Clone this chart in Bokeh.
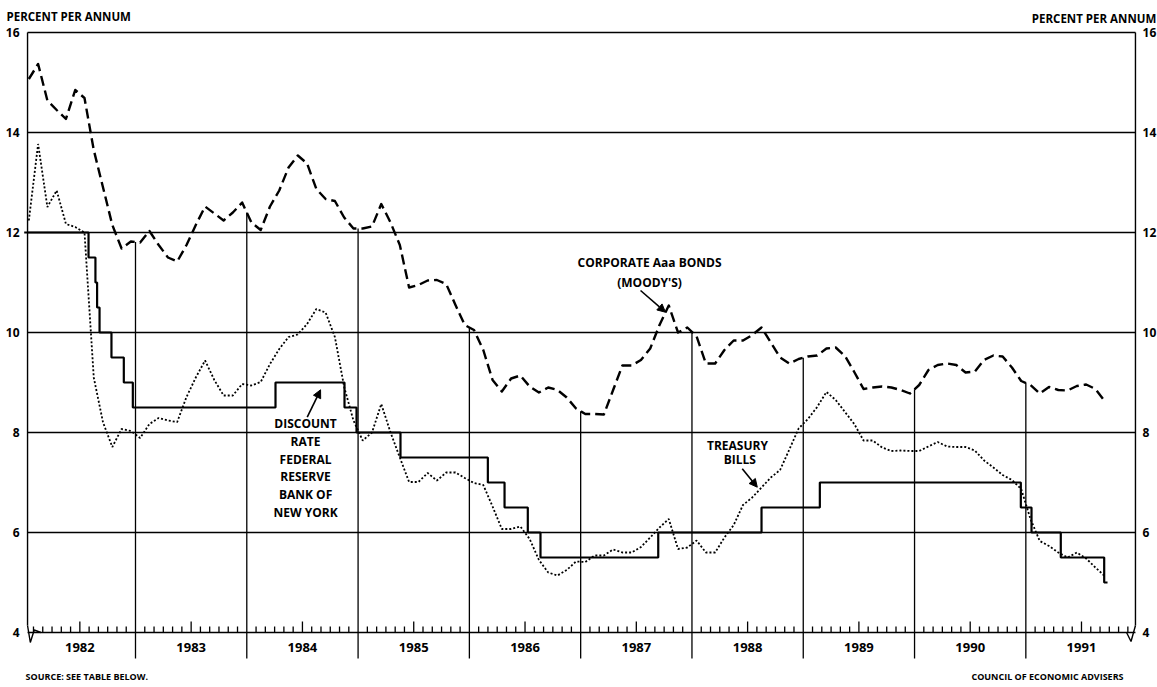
import numpy as np
from bokeh.plotting import figure
from bokeh.models import Range1d, Label, Arrow, NormalHead
from bokeh.core.properties import value
from bokeh.embed import file_html
from bokeh.resources import INLINE

# ---------------- data ----------------
FIRST_YEAR = 1982
years = list(range(1982, 1992))
year_labels = [str(y) for y in years]
y_ticks = [4, 6, 8, 10, 12, 14, 16]
y_tick_labels = [str(t) for t in y_ticks]

# Corporate Aaa bonds (Moody's), monthly, Jan 1982 - Sep 1991
aaa_bonds = [
    15.07, 15.37, 14.64, 14.45, 14.27, 14.85, 14.69, 13.65, 12.90, 12.15, 11.68, 11.82,   # 1982
    11.80, 12.03, 11.75, 11.50, 11.42, 11.75, 12.15, 12.52, 12.38, 12.24, 12.40, 12.60,   # 1983
    12.20, 12.05, 12.52, 12.84, 13.30, 13.54, 13.38, 12.87, 12.67, 12.63, 12.30, 12.08,   # 1984
    12.08, 12.12, 12.57, 12.20, 11.75, 10.90, 10.95, 11.04, 11.05, 10.97, 10.55, 10.15,   # 1985
    10.05, 9.65, 9.05, 8.82, 9.08, 9.14, 8.92, 8.80, 8.90, 8.85, 8.70, 8.48,              # 1986
    8.37, 8.37, 8.36, 8.85, 9.34, 9.34, 9.45, 9.68, 10.15, 10.54, 10.00, 10.10,           # 1987
    9.92, 9.38, 9.38, 9.65, 9.84, 9.84, 9.95, 10.10, 9.80, 9.50, 9.38, 9.47,              # 1988
    9.52, 9.54, 9.68, 9.70, 9.53, 9.21, 8.87, 8.90, 8.92, 8.90, 8.85, 8.78,               # 1989
    8.95, 9.25, 9.35, 9.38, 9.35, 9.20, 9.22, 9.45, 9.54, 9.52, 9.30, 9.03,               # 1990
    8.95, 8.78, 8.91, 8.85, 8.84, 8.93, 8.96, 8.87, 8.63,                                 # 1991
]

# Treasury bills, monthly, Jan 1982 - Sep 1991
treasury_bills = [
    12.24, 13.77, 12.51, 12.84, 12.17, 12.11, 12.00, 9.10, 8.20, 7.71, 8.07, 8.03,        # 1982
    7.89, 8.17, 8.29, 8.24, 8.21, 8.71, 9.10, 9.44, 9.05, 8.74, 8.74, 8.97,               # 1983
    8.94, 9.01, 9.37, 9.67, 9.91, 9.96, 10.17, 10.47, 10.40, 9.91, 8.91, 8.24,            # 1984
    7.84, 8.00, 8.57, 8.00, 7.50, 7.01, 7.01, 7.19, 7.04, 7.20, 7.20, 7.09,               # 1985
    6.99, 6.95, 6.52, 6.07, 6.07, 6.12, 5.87, 5.45, 5.20, 5.14, 5.25, 5.42,               # 1986
    5.41, 5.54, 5.54, 5.66, 5.60, 5.60, 5.71, 5.90, 6.10, 6.27, 5.67, 5.70,               # 1987
    5.84, 5.60, 5.60, 5.90, 6.15, 6.55, 6.70, 6.90, 7.10, 7.25, 7.66, 8.08,               # 1988
    8.27, 8.51, 8.81, 8.65, 8.41, 8.17, 7.84, 7.84, 7.70, 7.63, 7.64, 7.63,               # 1989
    7.63, 7.72, 7.81, 7.72, 7.71, 7.71, 7.64, 7.44, 7.30, 7.15, 7.05, 6.87,               # 1990
    6.27, 5.83, 5.73, 5.60, 5.50, 5.60, 5.48, 5.30, 5.13,                                 # 1991
]

# Discount rate, Federal Reserve Bank of New York (step series)
discount_change_dates = [
    1982.000, 1982.578, 1982.640, 1982.655, 1982.677, 1982.784, 1982.895, 1982.976,
    1984.258, 1984.878, 1984.986, 1985.381, 1986.166, 1986.316, 1986.525, 1986.639,
    1987.697, 1988.625, 1989.149, 1990.955, 1991.051, 1991.314, 1991.704, 1991.734,
]
discount_rates = [
    12.0, 11.5, 11.0, 10.5, 10.0, 9.5, 9.0, 8.5,
    9.0, 8.5, 8.0, 7.5, 7.0, 6.5, 6.0, 5.5,
    6.0, 6.5, 7.0, 6.5, 6.0, 5.5, 5.0, 5.0,
]

# ---------------- style ----------------
FONT = "Open Sans"
INK = "black"
Y_MIN, Y_MAX = 4, 16
X_LEFT, X_RIGHT = 1982.03, 1991.985
W, H = 1157, 687

month_x = FIRST_YEAR + (np.arange(len(aaa_bonds)) + 0.5) / 12.0
bill_x = FIRST_YEAR + (np.arange(len(treasury_bills)) + 0.5) / 12.0

p = figure(width=W, height=H, output_backend="svg", toolbar_location=None, title=None,
           x_range=Range1d(1981.787, 1992.183), y_range=Range1d(2.9, 16.64),
           x_axis_location=None, y_axis_location=None, min_border=0)
p.outline_line_color = None
p.background_fill_color = "white"
p.border_fill_color = "white"
p.grid.visible = False

# value labels on both sides
p.text(x=[1981.958] * len(y_ticks), y=y_ticks, text=y_tick_labels,
       text_font=value(FONT), text_font_style="bold", text_font_size="12px",
       text_align="right", text_baseline="middle", text_color=INK)
p.text(x=[1992.049] * len(y_ticks), y=y_ticks, text=y_tick_labels,
       text_font=value(FONT), text_font_style="bold", text_font_size="12px",
       text_align="left", text_baseline="middle", text_color=INK)

# horizontal rules (including bottom axis and top border)
p.segment(x0=[X_LEFT] * len(y_ticks), y0=y_ticks, x1=[X_RIGHT] * len(y_ticks), y1=y_ticks,
          line_color=INK, line_width=1.4)
# left / right borders
p.segment(x0=[X_LEFT, X_RIGHT], y0=[Y_MIN + 0.14, Y_MIN + 0.14], x1=[X_LEFT, X_RIGHT], y1=[Y_MAX, Y_MAX],
          line_color=INK, line_width=1.4)
# axis break marks
p.line([X_LEFT, X_LEFT + 0.025, X_LEFT + 0.06, X_LEFT + 0.12], [Y_MIN + 0.14, Y_MIN - 0.2, Y_MIN + 0.05, Y_MIN],
       line_color=INK, line_width=1.4)
p.line([X_RIGHT - 0.08, X_RIGHT - 0.04, X_RIGHT], [Y_MIN, Y_MIN - 0.18, Y_MIN + 0.14],
       line_color=INK, line_width=1.4)

# monthly ticks on the bottom axis
tick_x, tick_top = [], []
for y in years:
    for m in range(1, 12):
        tick_x.append(y + m / 12.0)
        tick_top.append(Y_MIN + (0.22 if m == 6 else 0.12))
p.segment(x0=tick_x, y0=[Y_MIN] * len(tick_x), x1=tick_x, y1=tick_top, line_color=INK, line_width=1.3)

# year dividers: from below the axis up to the Aaa curve
div_x = years[1:]
div_top = list(np.interp(div_x, month_x, aaa_bonds))
p.segment(x0=div_x, y0=[3.48] * len(div_x), x1=div_x, y1=div_top, line_color=INK, line_width=1.3)

# year labels
p.text(x=[y + 0.5 for y in years], y=[3.7] * len(years), text=year_labels,
       text_font=value(FONT), text_font_style="bold", text_font_size="13px",
       text_align="center", text_baseline="middle", text_color=INK)

# series
p.line(bill_x, treasury_bills, line_color=INK, line_width=1.8, line_dash="2 2")
p.step(discount_change_dates, discount_rates, mode="after", line_color=INK, line_width=2.2)
p.line(month_x, aaa_bonds, line_color=INK, line_width=2.4, line_dash="10 5", line_join="round")

# titles and notes
def add_label(x, y, text, size="12px", align="center", baseline="middle"):
    p.add_layout(Label(x=x, y=y, text=text, text_font=FONT, text_font_style="bold",
                       text_font_size=size, text_align=align, text_baseline=baseline,
                       text_color=INK))

add_label(1981.841, 16.314, "PERCENT PER ANNUM", size="11.5px", align="left")
add_label(1992.172, 16.28, "PERCENT PER ANNUM", size="11.5px", align="right")
add_label(1982.012, 3.13, "SOURCE: SEE TABLE BELOW.", size="9px", align="left")
add_label(1991.878, 3.13, "COUNCIL OF ECONOMIC ADVISERS", size="9px", align="right")

discount_note = ["DISCOUNT", "RATE", "FEDERAL", "RESERVE", "BANK OF", "NEW YORK"]
for i, t in enumerate(discount_note):
    add_label(1984.528, 8.174 - i * 0.354, t)
add_label(1987.619, 11.394, "CORPORATE Aaa BONDS")
add_label(1987.619, 11.006, "(MOODY'S)")
add_label(1988.409, 7.74, "TREASURY")
add_label(1988.43, 7.454, "BILLS")

for xs, ys, xe, ye in [(1984.543, 8.306, 1984.663, 8.854),
                       (1987.538, 10.84, 1987.762, 10.406),
                       (1988.452, 7.274, 1988.587, 6.906)]:
    p.add_layout(Arrow(end=NormalHead(size=8, fill_color=INK, line_color=INK),
                       x_start=xs, y_start=ys, x_end=xe, y_end=ye,
                       line_color=INK, line_width=1.6))

open("out.html", "w").write(file_html(p, INLINE))
